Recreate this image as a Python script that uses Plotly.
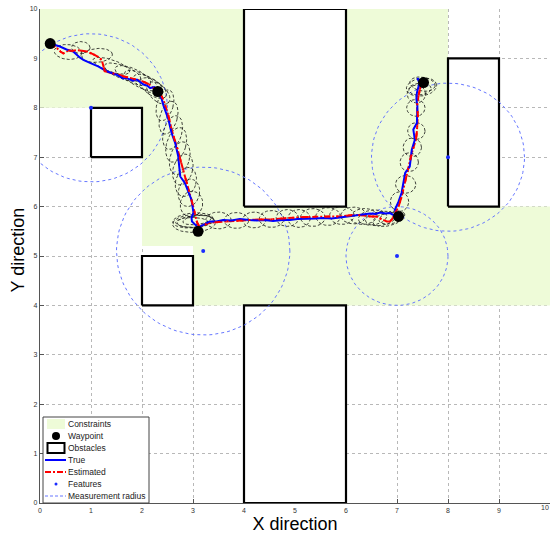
import numpy as np
import plotly.graph_objects as go

# ---------------- data ----------------
constraint_x = [0, 0, 8, 8, 10, 10, 3, 3, 2, 2, 0]
constraint_y = [8, 10, 10, 6, 6, 4, 4, 5.2, 5.2, 8, 8]

# obstacles: (x0, y0, x1, y1)
obst_x0 = [1, 2, 4, 4, 8]
obst_y0 = [7, 4, 6, 0, 6]
obst_x1 = [2, 3, 6, 6, 9]
obst_y1 = [8, 5, 10, 4, 9]

waypoint_x = [0.20, 2.31, 3.10, 7.03, 7.52]
waypoint_y = [9.30, 8.33, 5.50, 5.80, 8.51]

feature_x = [1.0, 3.2, 7.0, 8.0]
feature_y = [8.0, 5.1, 5.0, 7.0]
meas_radius = [1.5, 1.7, 1.0, 1.5]

true_x = [0.20, 0.39, 0.52, 0.65, 0.78, 0.85, 0.98, 1.14, 1.31, 1.42, 1.50, 1.62, 1.70, 1.82, 1.90, 2.03, 2.10, 2.16, 2.24, 2.29, 2.33,
          2.38, 2.42, 2.47, 2.52, 2.55, 2.58, 2.65, 2.68, 2.71, 2.73, 2.75, 2.84, 2.91, 2.97, 3.01, 2.97, 2.98, 3.07, 3.10,
          3.20, 3.33, 3.46, 3.59, 3.75, 3.92, 4.10, 4.25, 4.40, 4.57, 4.75, 4.90, 5.05, 5.23, 5.40, 5.56, 5.72, 5.88, 6.05, 6.21,
          6.35, 6.47, 6.58, 6.67, 6.78, 6.86, 6.95, 7.00,
          6.96, 7.03, 7.09, 7.12, 7.16, 7.25, 7.27, 7.29, 7.35, 7.32, 7.39, 7.40, 7.40, 7.38, 7.39, 7.44, 7.40, 7.45, 7.50]
true_y = [9.30, 9.24, 9.18, 9.14, 9.02, 8.97, 8.91, 8.84, 8.74, 8.70, 8.67, 8.60, 8.60, 8.55, 8.57, 8.47, 8.45, 8.40, 8.42, 8.36, 8.30,
          8.20, 8.05, 7.90, 7.76, 7.62, 7.49, 7.29, 7.15, 7.02, 6.81, 6.61, 6.48, 6.31, 6.14, 5.87, 5.78, 5.70, 5.62, 5.58,
          5.63, 5.70, 5.70, 5.73, 5.72, 5.75, 5.73, 5.72, 5.73, 5.71, 5.73, 5.73, 5.75, 5.75, 5.76, 5.77, 5.76, 5.78, 5.80, 5.82,
          5.84, 5.86, 5.85, 5.88, 5.86, 5.87, 5.82, 5.80,
          5.94, 6.10, 6.28, 6.48, 6.68, 6.81, 7.00, 7.15, 7.35, 7.56, 7.69, 7.85, 8.03, 8.18, 8.30, 8.50, 8.60, 8.55, 8.52]

est_x = [0.20, 0.33, 0.40, 0.46, 0.56, 0.64, 0.72, 0.82, 0.92, 1.05, 1.14, 1.21, 1.24, 1.27, 1.41, 1.52, 1.63, 1.76, 1.90, 2.00,
         2.09, 2.16, 2.22, 2.30, 2.35, 2.42, 2.47, 2.52, 2.58, 2.63, 2.70, 2.76, 2.82, 2.88, 2.95, 3.00, 3.05, 3.08, 3.12,
         3.22, 3.33, 3.50, 3.65, 3.80, 3.92, 4.10, 4.30, 4.50, 4.70, 4.90, 5.05, 5.23, 5.40, 5.60, 5.75, 5.88, 6.05, 6.20, 6.35,
         6.48, 6.60, 6.66, 6.73, 6.80, 6.86, 6.90, 6.93, 6.98, 7.03,
         7.09, 7.13, 7.16, 7.20, 7.22, 7.26, 7.29, 7.33, 7.37, 7.39, 7.40, 7.41, 7.39, 7.40, 7.42, 7.45, 7.47, 7.50, 7.52]
est_y = [9.30, 9.21, 9.14, 9.10, 9.16, 9.15, 9.17, 9.15, 9.14, 9.08, 9.03, 8.97, 8.85, 8.74, 8.70, 8.68, 8.64, 8.61, 8.57, 8.54,
         8.50, 8.46, 8.40, 8.38, 8.30, 8.16, 8.00, 7.83, 7.56, 7.40, 7.15, 6.92, 6.70, 6.48, 6.25, 6.02, 5.80, 5.68, 5.60,
         5.64, 5.67, 5.69, 5.70, 5.70, 5.71, 5.72, 5.74, 5.74, 5.76, 5.77, 5.78, 5.79, 5.79, 5.80, 5.80, 5.80, 5.82, 5.83, 5.82,
         5.80, 5.80, 5.76, 5.73, 5.70, 5.70, 5.74, 5.80, 5.90, 6.00,
         6.20, 6.38, 6.54, 6.70, 6.81, 6.95, 7.08, 7.22, 7.35, 7.52, 7.69, 7.86, 8.03, 8.15, 8.23, 8.38, 8.50, 8.58, 8.51]

# covariance ellipses: centre, semi-axes, rotation (deg)
ell_cx = [0.55, 0.80, 1.12, 1.40, 1.62, 1.82, 1.98, 2.12, 2.22, 2.32,
          2.45, 2.52, 2.60, 2.67, 2.74, 2.80, 2.86, 2.92, 2.97,
          3.00, 3.05, 2.98, 3.08, 3.02,
          3.50, 3.85, 4.20, 4.54, 4.85, 5.08, 5.35, 5.65, 5.92, 6.15, 6.35, 6.52, 6.68, 6.82, 6.90,
          7.05, 7.17, 7.24, 7.30, 7.38, 7.37, 7.38, 7.48, 7.50, 7.45]
ell_cy = [9.13, 9.22, 9.06, 8.85, 8.72, 8.65, 8.55, 8.48, 8.40, 8.30,
          8.05, 7.80, 7.50, 7.25, 6.98, 6.75, 6.50, 6.28, 6.05,
          5.72, 5.70, 5.68, 5.73, 5.66,
          5.72, 5.72, 5.73, 5.75, 5.77, 5.76, 5.78, 5.80, 5.82, 5.82, 5.80, 5.78, 5.76, 5.74, 5.78,
          6.10, 6.45, 6.90, 7.20, 7.53, 8.00, 8.28, 8.42, 8.48, 8.38]
ell_a = [0.27, 0.18, 0.30, 0.38, 0.38, 0.38, 0.36, 0.32, 0.30, 0.28,
         0.16, 0.17, 0.18, 0.19, 0.19, 0.19, 0.20, 0.21, 0.22,
         0.40, 0.36, 0.32, 0.28, 0.42,
         0.25, 0.24, 0.23, 0.24, 0.22, 0.22, 0.24, 0.24, 0.24, 0.25, 0.26, 0.28, 0.30, 0.30, 0.26,
         0.18, 0.20, 0.18, 0.18, 0.17, 0.18, 0.18, 0.30, 0.25, 0.22]
ell_b = [0.15, 0.12, 0.14, 0.12, 0.13, 0.14, 0.14, 0.14, 0.15, 0.16,
         0.32, 0.34, 0.35, 0.36, 0.34, 0.32, 0.30, 0.28, 0.26,
         0.15, 0.12, 0.10, 0.09, 0.18,
         0.17, 0.16, 0.16, 0.17, 0.17, 0.18, 0.18, 0.18, 0.18, 0.17, 0.16, 0.15, 0.14, 0.13, 0.12,
         0.20, 0.18, 0.19, 0.19, 0.17, 0.17, 0.18, 0.18, 0.14, 0.12]
ell_ang = [-5, 0, 5, -20, -22, -25, -28, -30, -35, -45,
           -15, -15, -15, -15, -15, -15, -15, -10, -10,
           5, 5, 0, 8, 3,
           0, 0, 0, 0, 0, 0, 0, 0, 0, 0, 5, 8, 10, 12, 15,
           0, 0, 0, 0, 0, 0, 0, 10, -10, 5]

legend_labels = ["Constraints", "Waypoint", "Obstacles", "True", "Estimated", "Features", "Measurement radius"]

# ---------------- figure ----------------
W, H = 551, 537
ML, MR, MT, MB = 40, 1, 9, 34
PW, PH = W - ML - MR, H - MT - MB
FONT = "Liberation Sans, Arial"

fig = go.Figure()

fig.add_trace(go.Scatter(x=constraint_x, y=constraint_y, mode="lines", fill="toself",
                         fillcolor="#eefbd8", line=dict(width=0), name=legend_labels[0],
                         hoverinfo="skip", showlegend=False))

ox, oy = [], []
for x0, y0, x1, y1 in zip(obst_x0, obst_y0, obst_x1, obst_y1):
    ox += [x0, x1, x1, x0, x0, None]
    oy += [y0, y0, y1, y1, y0, None]
fig.add_trace(go.Scatter(x=ox, y=oy, mode="lines", fill="toself", fillcolor="white",
                         line=dict(color="black", width=2.2), name=legend_labels[2], showlegend=False))

t = np.linspace(0, 2 * np.pi, 121)
cx_all, cy_all = [], []
for fx, fy, r in zip(feature_x, feature_y, meas_radius):
    cx_all += list(fx + r * np.cos(t)) + [None]
    cy_all += list(fy + r * np.sin(t)) + [None]
fig.add_trace(go.Scatter(x=cx_all, y=cy_all, mode="lines",
                         line=dict(color="#6677ff", width=1, dash="3px,3px"),
                         name=legend_labels[6], showlegend=False))

exs, eys = [], []
te = np.linspace(0, 2 * np.pi, 61)
for cx, cy, a, b, ang in zip(ell_cx, ell_cy, ell_a, ell_b, ell_ang):
    th = np.deg2rad(ang)
    xs = cx + a * np.cos(te) * np.cos(th) - b * np.sin(te) * np.sin(th)
    ys = cy + a * np.cos(te) * np.sin(th) + b * np.sin(te) * np.cos(th)
    exs += list(xs) + [None]
    eys += list(ys) + [None]
fig.add_trace(go.Scatter(x=exs, y=eys, mode="lines",
                         line=dict(color="rgba(20,20,20,0.8)", width=1, dash="3px,2px"),
                         showlegend=False, name="covariance"))

fig.add_trace(go.Scatter(x=est_x, y=est_y, mode="lines",
                         line=dict(color="#ff0000", width=2, dash="6px,2px,2px,2px"),
                         name=legend_labels[4], showlegend=False))
fig.add_trace(go.Scatter(x=true_x, y=true_y, mode="lines", line=dict(color="#0000ff", width=2),
                         name=legend_labels[3], showlegend=False))
fig.add_trace(go.Scatter(x=est_x, y=est_y, mode="lines",
                         line=dict(color="#ff0000", width=2, dash="6px,6px,2px,8px"),
                         name=legend_labels[4] + " (overlay)", showlegend=False, hoverinfo="skip"))
fig.add_trace(go.Scatter(x=feature_x, y=feature_y, mode="markers",
                         marker=dict(color="#1a2bff", size=4), name=legend_labels[5], showlegend=False))
fig.add_trace(go.Scatter(x=waypoint_x, y=waypoint_y, mode="markers",
                         marker=dict(color="black", size=11), name=legend_labels[1], showlegend=False))

# ---------------- manual legend (pixel -> paper) ----------------
def px(xp):
    return (xp - ML) / PW

def py(yp):
    return (H - MB - yp) / PH

shapes = []
shapes.append(dict(type="rect", xref="paper", yref="paper", x0=px(43), x1=px(149), y0=py(503), y1=py(417),
                   line=dict(color="#444", width=1), fillcolor="white", layer="above"))
row_y = [424, 436, 448, 460, 472, 484, 496]
shapes.append(dict(type="rect", xref="paper", yref="paper", x0=px(47), x1=px(65), y0=py(429), y1=py(419),
                   line=dict(width=0), fillcolor="#eefbd8", layer="above"))
shapes.append(dict(type="circle", xref="paper", yref="paper", x0=px(52), x1=px(60), y0=py(440), y1=py(432),
                   line=dict(width=0), fillcolor="black", layer="above"))
shapes.append(dict(type="rect", xref="paper", yref="paper", x0=px(47.5), x1=px(64.5), y0=py(453), y1=py(443),
                   line=dict(color="black", width=2), fillcolor="white", layer="above"))
shapes.append(dict(type="line", xref="paper", yref="paper", x0=px(45), x1=px(66), y0=py(460), y1=py(460),
                   line=dict(color="#0000ff", width=2), layer="above"))
shapes.append(dict(type="line", xref="paper", yref="paper", x0=px(45), x1=px(66), y0=py(472), y1=py(472),
                   line=dict(color="#ff0000", width=2, dash="6px,2px,2px,2px"), layer="above"))
shapes.append(dict(type="circle", xref="paper", yref="paper", x0=px(54.5), x1=px(57.5), y0=py(485.5), y1=py(482.5),
                   line=dict(width=0), fillcolor="#1a2bff", layer="above"))
shapes.append(dict(type="line", xref="paper", yref="paper", x0=px(45), x1=px(66), y0=py(496), y1=py(496),
                   line=dict(color="#6677ff", width=1, dash="3px,2px"), layer="above"))

annotations = []
for lab, ry in zip(legend_labels, row_y):
    annotations.append(dict(text=lab, xref="paper", yref="paper", x=px(66), y=py(ry), xanchor="left",
                            yanchor="middle", showarrow=False, font=dict(size=8.5, color="#222", family=FONT)))

# y-axis title
annotations.append(dict(text="Y direction", xref="paper", yref="paper", x=px(17.5), y=py(250),
                        xanchor="center", yanchor="middle", textangle=-90, showarrow=False,
                        font=dict(size=18, color="black", family=FONT)))
# last x tick label, kept inside the page edge
annotations.append(dict(text="10", xref="paper", yref="paper", x=px(550), y=py(507.5), xanchor="right",
                        yanchor="middle", showarrow=False, borderpad=0,
                        font=dict(size=7, color="#333", family=FONT)))

axis_common = dict(range=[0, 10], dtick=1, showgrid=True, gridcolor="#b8b8b8", griddash="dot", gridwidth=1,
                   zeroline=False, showline=True, linecolor="#555", linewidth=1.2, ticks="inside",
                   ticklen=4, tickcolor="#555", tickfont=dict(size=7, color="#333", family=FONT),
                   layer="below traces", mirror=False)

fig.update_layout(
    width=W, height=H, margin=dict(l=ML, r=MR, t=MT, b=MB, pad=0),
    paper_bgcolor="white", plot_bgcolor="white", showlegend=False,
    xaxis=dict(**axis_common, title=dict(text="X direction", font=dict(size=18, color="black", family=FONT),
                                         standoff=4)),
    yaxis=dict(**axis_common),
    shapes=shapes, annotations=annotations,
    font=dict(family=FONT),
)

fig.write_html("out.html")
